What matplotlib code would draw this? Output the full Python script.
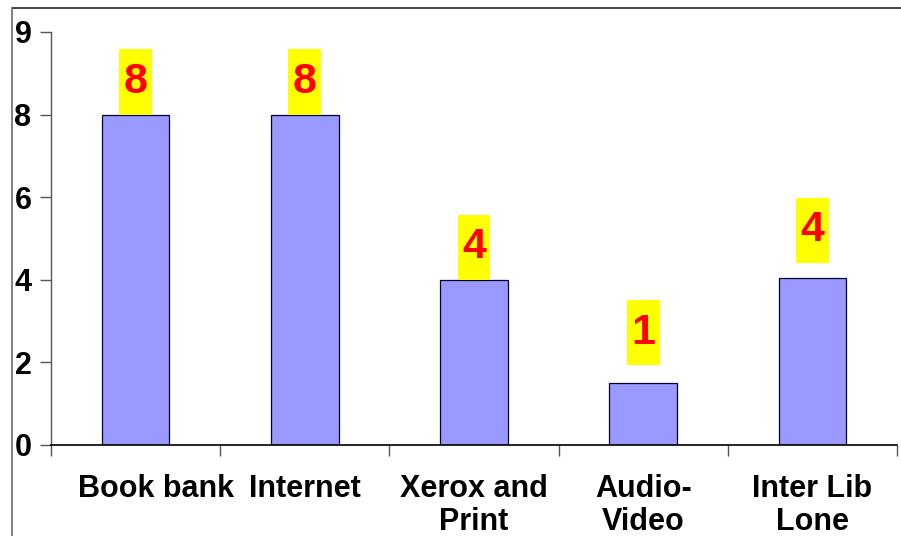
import matplotlib
matplotlib.use('Agg')
import matplotlib.pyplot as plt
import matplotlib.transforms as mtransforms
from matplotlib.lines import Line2D

# Facility usage counts
categories = ['Book bank', 'Internet', 'Xerox and\nPrint', 'Audio-\nVideo', 'Inter Lib\nLone']
values = [8.0, 8.0, 4.0, 1.49, 4.05]
y_ticks = [0, 2, 4, 6, 8, 10]
y_tick_labels = ['0', '2', '4', '6', '8', '9']

# extra lift of the value boxes above the bars (data units)
label_gap = [0.0, 0.0, 0.0, 0.44, 0.36]

plt.rcParams['font.family'] = ['Liberation Sans', 'DejaVu Sans']

fig = plt.figure(figsize=(9.01, 5.36), dpi=100)
ax = fig.add_axes([51 / 901, 91 / 536, 846 / 901, 413 / 536])

x = [i + 0.5 for i in range(len(values))]
ax.bar(x, values, width=0.4, color='#9999FF', edgecolor='#000033', linewidth=0.9, zorder=2)

# value labels on yellow boxes
box_w = 0.195
box_h = 1.58
for xi, v, g in zip(x, values, label_gap):
    b = v + g
    ax.bar(xi, box_h, bottom=b, width=box_w, color='#FFFF00', linewidth=0, zorder=2)
    ax.text(xi, b + box_h / 2, '%.0f' % v, ha='center', va='center',
            fontsize=31, fontweight='bold', color='#FF0000', zorder=3)

ax.set_xlim(0, len(values))
ax.set_ylim(0, 10)
ax.set_yticks(y_ticks)
ax.set_yticklabels(y_tick_labels, fontsize=22, fontweight='bold')
ax.tick_params(axis='y', direction='out', length=8, width=1, color='#555555', pad=6)

ax.set_xticks(range(len(values) + 1))
ax.set_xticklabels([])
ax.tick_params(axis='x', which='major', direction='out', length=8, width=1, color='#555555')
ax.set_xticks(x, minor=True)
ax.set_xticklabels(categories, minor=True, fontsize=22, fontweight='bold',
                   linespacing=1.12)
ax.tick_params(axis='x', which='minor', length=0, pad=21)

# nudge the first category label away from the y axis
first = ax.get_xticklabels(minor=True)[0]
first.set_transform(first.get_transform()
                    + mtransforms.ScaledTranslation(20 / 100, 0, fig.dpi_scale_trans))

for s in ['top', 'right']:
    ax.spines[s].set_visible(False)
ax.spines['left'].set_color('#555555')
ax.spines['bottom'].set_color('#000000')
ax.spines['left'].set_linewidth(1)
ax.spines['bottom'].set_linewidth(1.2)

# outer frame on top and left
fig.add_artist(Line2D([12 / 901, 1], [1 - 8 / 536, 1 - 8 / 536], color='#333333', lw=1.3))
fig.add_artist(Line2D([12 / 901, 12 / 901], [0, 1 - 8 / 536], color='#777777', lw=1.3))

fig.savefig('out.png', dpi=100)
